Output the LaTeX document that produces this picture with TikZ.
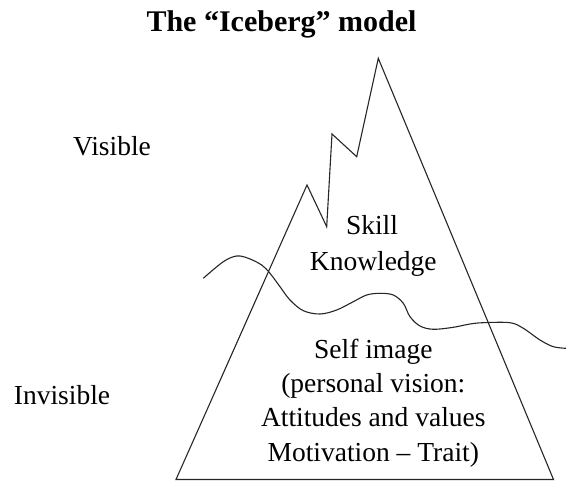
\documentclass[tikz,border=0pt]{standalone}
\usepackage{fontspec}
\setmainfont{Liberation Serif}
\begin{document}
\begin{tikzpicture}[x=1pt,y=-1pt,
  outline/.style={draw=black!85,line width=1.1pt,line join=miter},
  wave/.style={draw=black!85,line width=1.1pt},
  body/.style={anchor=base,inner sep=0pt,font=\fontsize{27.5}{34}\selectfont},
  heading/.style={anchor=base,inner sep=0pt,font=\fontsize{30}{36}\selectfont\bfseries}]
\useasboundingbox (0,0) rectangle (566,481);

% title
\node[heading] (title) at (281.5,32) {The “Iceberg” model};

% iceberg outline
\draw[outline] (176,479.5) -- (307,185) -- (326.7,226.7) -- (332,134)
  -- (356.7,156.7) -- (378.3,58.3) -- (553.5,479.5) -- cycle;

% water line
\draw[wave] plot[smooth,tension=0.55] coordinates {
  (203.3,278.3) (223.3,261.7) (236.7,256) (248.3,258.3) (261.7,265)
  (270,273.3) (280,286.7) (290,300) (303.3,310.7) (320,314)
  (336.7,310) (353.3,301.7) (366.7,295) (380,293.3) (393.3,295)
  (403.3,303.3) (410,316.7) (420,326) (433.3,329.3) (453.3,327.3)
  (470,324) (483.3,322.7) (510,322.7) (523.3,328.3) (540,340)
  (553.3,346.7) (566,348.3)};

% side labels
\node[body] (visible) at (112,155.7) {Visible};
\node[body] (invisible) at (62,405) {Invisible};

% above the water
\node[body] (skill) at (372,235) {Skill};
\node[body] (knowledge) at (373.3,271) {Knowledge};

% below the water
\node[body] (self) at (373.3,358.5) {Self image};
\node[body] (vision) at (373.3,392.5) {(personal vision:};
\node[body] (attitudes) at (373.3,427) {Attitudes and values};
\node[body] (motivation) at (373.3,461.5) {Motivation – Trait)};
\end{tikzpicture}
\end{document}
